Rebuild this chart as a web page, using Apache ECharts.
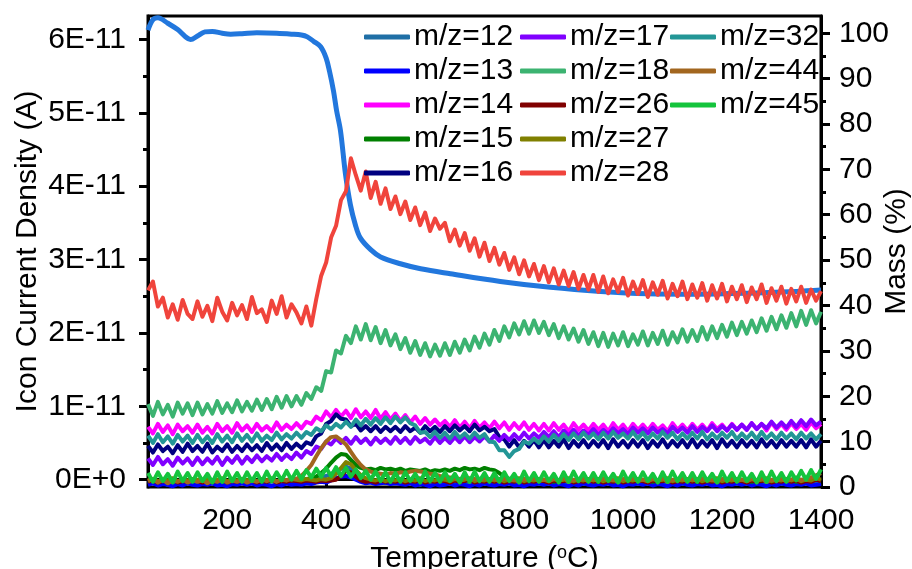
<!DOCTYPE html>
<html><head><meta charset="utf-8">
<script src="https://cdn.jsdelivr.net/npm/echarts@6/dist/echarts.min.js"></script>
<style>html,body{margin:0;padding:0;background:#fff}#c{width:912px;height:569px}</style>
</head><body><div id="c"></div>
<script>
// Temperature (°C) sampling of the MS signals
const temperature = [
40,50,60,70,80,90,100,110,120,130,
140,150,160,170,180,190,200,210,220,230,
240,250,260,270,280,290,300,310,320,330,
340,350,360,370,380,390,400,410,420,430,
440,450,460,470,480,490,500,510,520,530,
540,550,560,570,580,590,600,610,620,630,
640,650,660,670,680,690,700,710,720,730,
740,750,760,770,780,790,800,810,820,830,
840,850,860,870,880,890,900,910,920,930,
940,950,960,970,980,990,1000,1010,1020,1030,
1040,1050,1060,1070,1080,1090,1100,1110,1120,1130,
1140,1150,1160,1170,1180,1190,1200,1210,1220,1230,
1240,1250,1260,1270,1280,1290,1300,1310,1320,1330,
1340,1350,1360,1370,1380,1390,1400];

// Ion current values in units of 1E-12 A
const mz12 = [
-0.5,-0.3,-0.6,-0.4,-0.7,-0.4,-0.6,-0.3,-0.5,-0.6,
-0.4,-0.6,-0.3,-0.5,-0.7,-0.4,-0.5,-0.3,-0.6,-0.4,
-0.5,-0.3,-0.6,-0.4,-0.5,-0.2,-0.4,-0.3,-0.5,-0.2,
-0.4,-0.3,-0.1,0.1,0.2,0.3,0.5,0.8,1.1,1.5,
1.8,1.5,1.0,0.5,0.1,-0.2,-0.4,-0.3,-0.5,-0.4,
-0.5,-0.3,-0.6,-0.4,-0.5,-0.7,-0.4,-0.5,-0.3,-0.6,
-0.4,-0.6,-0.3,-0.5,-0.6,-0.4,-0.5,-0.3,-0.6,-0.5,
-0.5,-0.3,-0.6,-0.4,-0.5,-0.7,-0.4,-0.5,-0.3,-0.6,
-0.4,-0.6,-0.3,-0.5,-0.6,-0.4,-0.5,-0.3,-0.6,-0.5,
-0.5,-0.3,-0.6,-0.4,-0.5,-0.7,-0.4,-0.5,-0.3,-0.6,
-0.4,-0.6,-0.3,-0.5,-0.6,-0.4,-0.5,-0.3,-0.6,-0.5,
-0.5,-0.3,-0.6,-0.4,-0.5,-0.7,-0.4,-0.5,-0.3,-0.6,
-0.4,-0.6,-0.3,-0.5,-0.6,-0.4,-0.5,-0.3,-0.6,-0.5,
-0.4,-0.6,-0.3,-0.5,-0.4,-0.6,-0.5];
const mz13 = [
-0.7,-0.5,-0.8,-0.6,-0.7,-0.9,-0.6,-0.8,-0.5,-0.7,
-0.8,-0.6,-0.7,-0.5,-0.8,-0.7,-0.9,-0.6,-0.7,-0.5,
-0.7,-0.5,-0.8,-0.6,-0.7,-0.9,-0.6,-0.8,-0.5,-0.7,
-0.6,-0.7,-0.5,-0.6,-0.4,-0.3,-0.4,-0.1,0.2,0.4,
0.5,0.3,0.0,-0.3,-0.5,-0.4,-0.6,-0.5,-0.4,-0.6,
-0.5,-0.6,-0.7,-0.5,-0.8,-0.6,-0.7,-0.9,-0.6,-0.8,
-0.7,-0.5,-0.8,-0.6,-0.7,-0.9,-0.6,-0.8,-0.5,-0.7,
-0.8,-0.6,-0.7,-0.5,-0.8,-0.7,-0.9,-0.6,-0.7,-0.5,
-0.7,-0.5,-0.8,-0.6,-0.7,-0.9,-0.6,-0.8,-0.5,-0.7,
-0.8,-0.6,-0.7,-0.5,-0.8,-0.7,-0.9,-0.6,-0.7,-0.5,
-0.7,-0.5,-0.8,-0.6,-0.7,-0.9,-0.6,-0.8,-0.5,-0.7,
-0.8,-0.6,-0.7,-0.5,-0.8,-0.7,-0.9,-0.6,-0.7,-0.5,
-0.7,-0.5,-0.8,-0.6,-0.7,-0.9,-0.6,-0.8,-0.5,-0.7,
-0.8,-0.6,-0.7,-0.5,-0.8,-0.7,-0.6];
const mz14 = [
7.2,6.3,7.6,6.5,7.4,6.2,7.5,6.6,7.3,6.4,
7.5,6.4,7.2,6.3,7.6,6.6,7.3,6.4,7.7,6.7,
7.4,6.5,7.6,6.7,7.3,6.6,7.8,6.8,7.5,6.9,
7.7,7.0,7.9,7.6,8.6,8.1,9.3,8.5,9.5,8.6,
9.4,8.4,9.6,8.5,9.3,8.4,9.5,8.3,9.2,8.2,
9.0,8.0,8.8,7.8,8.6,7.6,8.4,7.5,8.2,7.4,
8.0,7.2,8.1,7.1,7.9,7.0,8.0,7.1,7.8,7.0,
7.9,7.0,7.8,6.8,7.7,6.9,7.8,6.8,7.6,6.7,
7.6,6.7,7.7,6.8,7.5,6.6,7.7,6.8,7.5,6.7,
7.6,6.8,7.5,6.6,7.7,6.8,7.5,6.6,7.6,6.8,
7.5,6.7,7.6,6.8,7.4,6.6,7.7,6.8,7.5,6.7,
7.6,6.8,7.5,6.7,7.7,6.9,7.5,6.7,7.6,6.8,
7.5,6.8,7.7,6.9,7.6,6.7,7.8,6.9,7.6,6.8,
7.7,6.9,7.6,6.8,7.8,7.0,7.6];
const mz15 = [
-0.2,0.0,-0.3,-0.1,-0.2,0.1,-0.3,-0.1,-0.2,0.0,
-0.1,-0.3,0.0,-0.2,-0.1,0.1,-0.3,-0.1,-0.2,0.0,
-0.2,0.0,-0.3,-0.1,-0.2,0.1,-0.3,-0.1,-0.2,0.0,
0.0,-0.1,0.1,0.2,0.4,0.9,1.5,2.3,3.0,3.5,
3.4,2.7,2.0,1.6,1.4,1.5,1.3,1.6,1.4,1.5,
1.3,1.5,1.2,1.4,1.3,1.2,1.4,1.1,1.3,1.2,
1.4,1.2,1.5,1.3,1.6,1.4,1.5,1.3,1.6,1.4,
1.3,0.9,0.4,0.1,0.0,-0.1,0.1,-0.2,0.0,-0.1,
-0.2,0.0,-0.3,-0.1,-0.2,0.1,-0.3,-0.1,-0.2,0.0,
-0.1,-0.3,0.0,-0.2,-0.1,0.1,-0.3,-0.1,-0.2,0.0,
-0.2,0.0,-0.3,-0.1,-0.2,0.1,-0.3,-0.1,-0.2,0.0,
-0.1,-0.3,0.0,-0.2,-0.1,0.1,-0.3,-0.1,-0.2,0.0,
-0.2,0.0,-0.3,-0.1,-0.2,0.1,-0.3,-0.1,-0.2,0.0,
-0.1,-0.3,0.0,-0.2,-0.1,0.1,-0.2];
const mz16 = [
4.6,3.7,4.8,3.9,4.5,3.6,4.7,3.8,4.9,3.9,
4.6,3.8,4.9,3.7,4.5,3.9,4.8,3.8,4.6,3.9,
4.8,4.0,4.7,3.9,5.0,4.1,4.8,4.0,5.0,4.2,
4.9,4.3,5.1,4.8,5.9,6.3,7.6,8.0,8.9,8.3,
8.2,7.3,7.6,6.7,7.3,6.6,7.3,6.5,7.2,6.6,
7.2,6.5,7.3,6.6,7.1,6.4,7.3,6.6,7.2,6.5,
7.3,6.6,7.4,6.7,7.3,6.6,7.5,6.7,7.2,6.6,
6.9,5.8,5.5,4.5,5.4,4.4,5.3,4.5,5.4,4.4,
5.4,4.4,5.3,4.5,5.5,4.3,5.3,4.5,5.4,4.4,
5.3,4.5,5.4,4.3,5.5,4.5,5.3,4.4,5.4,4.5,
5.4,4.3,5.3,4.5,5.5,4.4,5.3,4.5,5.4,4.4,
5.5,4.4,5.3,4.5,5.4,4.3,5.5,4.5,5.3,4.4,
5.4,4.5,5.3,4.4,5.5,4.5,5.3,4.4,5.4,4.5,
5.3,4.5,5.4,4.4,5.5,4.5,5.3];
const mz17 = [
2.9,2.0,3.1,2.1,2.8,1.9,3.0,2.2,2.9,2.0,
3.0,2.1,2.9,2.2,3.1,2.0,3.0,2.3,3.2,2.2,
3.1,2.4,3.3,2.5,3.2,2.6,3.5,2.7,3.4,2.8,
3.7,3.0,3.9,3.5,4.5,4.2,5.2,4.8,5.6,5.0,
5.7,4.9,5.8,5.0,5.6,4.8,5.7,5.0,5.6,4.9,
5.8,5.0,5.7,4.9,5.8,5.1,5.6,4.9,5.8,5.0,
5.7,5.0,5.8,5.1,5.9,5.1,5.8,5.2,5.9,5.2,
6.0,5.3,6.1,5.4,6.2,5.5,6.4,5.6,6.3,5.7,
6.5,5.8,6.6,5.8,6.7,6.0,6.8,6.0,6.7,6.1,
6.9,6.1,6.8,6.2,7.0,6.3,6.9,6.2,7.1,6.4,
7.0,6.3,7.1,6.4,6.9,6.3,7.2,6.5,7.1,6.4,
7.3,6.5,7.2,6.6,7.4,6.6,7.3,6.7,7.5,6.8,
7.5,6.8,7.7,6.9,7.6,7.0,7.9,7.1,7.8,7.1,
8.0,7.2,8.1,7.3,8.2,7.4,7.9];
const mz18 = [
10.3,8.7,10.6,8.9,10.2,8.6,10.5,9.0,10.4,8.8,
10.5,8.9,10.3,9.0,10.7,9.1,10.4,9.2,10.8,9.3,
10.6,9.4,10.9,9.5,11.0,9.6,11.3,9.8,11.4,10.0,
11.4,10.2,11.8,11.0,12.6,12.1,14.8,14.6,17.6,17.2,
19.6,18.6,20.9,19.1,21.2,19.0,20.8,18.6,20.4,18.3,
19.8,17.8,19.3,17.3,18.9,17.0,18.6,16.8,18.4,16.9,
18.6,17.0,18.8,17.3,19.1,17.6,19.5,18.0,19.9,18.4,
20.4,18.9,20.9,19.4,21.3,19.8,21.6,19.9,21.7,20.0,
21.5,19.7,21.2,19.3,20.9,19.1,20.6,18.8,20.4,18.5,
20.1,18.2,20.0,18.1,19.9,18.3,20.1,18.2,19.8,18.4,
20.2,18.3,20.0,18.5,20.3,18.4,20.1,18.7,20.5,18.8,
20.4,18.9,20.8,19.1,20.9,19.3,21.1,19.5,21.4,19.7,
21.5,19.9,21.7,20.1,22.0,20.3,22.2,20.5,22.4,20.7,
22.7,20.9,23.0,21.1,23.1,21.3,22.9];
const mz26 = [
-0.3,-0.1,-0.4,-0.2,-0.3,0.0,-0.4,-0.2,-0.3,-0.1,
-0.2,-0.4,-0.1,-0.3,-0.2,0.0,-0.4,-0.2,-0.3,-0.1,
-0.3,-0.1,-0.4,-0.2,-0.3,0.0,-0.4,-0.2,-0.3,-0.1,
-0.2,-0.3,-0.1,-0.2,-0.3,-0.1,-0.2,-0.1,0.0,0.5,
1.2,1.0,0.4,-0.1,-0.3,-0.2,-0.4,-0.1,-0.3,-0.2,
-0.3,-0.1,-0.4,-0.2,-0.3,0.0,-0.4,-0.2,-0.3,-0.1,
-0.2,-0.4,-0.1,-0.3,-0.2,0.0,-0.4,-0.2,-0.3,-0.1,
-0.3,-0.1,-0.4,-0.2,-0.3,0.0,-0.4,-0.2,-0.3,-0.1,
-0.2,-0.4,-0.1,-0.3,-0.2,0.0,-0.4,-0.2,-0.3,-0.1,
-0.3,-0.1,-0.4,-0.2,-0.3,0.0,-0.4,-0.2,-0.3,-0.1,
-0.2,-0.4,-0.1,-0.3,-0.2,0.0,-0.4,-0.2,-0.3,-0.1,
-0.3,-0.1,-0.4,-0.2,-0.3,0.0,-0.4,-0.2,-0.3,-0.1,
-0.2,-0.4,-0.1,-0.3,-0.2,0.0,-0.4,-0.2,-0.3,-0.1,
-0.3,-0.1,-0.4,-0.2,-0.3,0.0,-0.2];
const mz27 = [
-0.1,0.1,-0.2,0.0,-0.1,0.2,-0.2,0.0,-0.1,0.1,
0.0,-0.2,0.1,-0.1,0.0,0.2,-0.2,0.0,-0.1,0.1,
-0.1,0.1,-0.2,0.0,-0.1,0.2,-0.2,0.0,-0.1,0.1,
0.0,-0.1,0.1,0.0,-0.1,0.1,0.0,0.2,0.8,1.6,
2.4,2.1,1.3,0.6,0.2,0.0,-0.1,0.1,-0.2,0.0,
-0.1,0.1,-0.2,0.0,-0.1,0.2,-0.2,0.0,-0.1,0.1,
0.0,-0.2,0.1,-0.1,0.0,0.2,-0.2,0.0,-0.1,0.1,
-0.1,0.1,-0.2,0.0,-0.1,0.2,-0.2,0.0,-0.1,0.1,
0.0,-0.2,0.1,-0.1,0.0,0.2,-0.2,0.0,-0.1,0.1,
-0.1,0.1,-0.2,0.0,-0.1,0.2,-0.2,0.0,-0.1,0.1,
0.0,-0.2,0.1,-0.1,0.0,0.2,-0.2,0.0,-0.1,0.1,
-0.1,0.1,-0.2,0.0,-0.1,0.2,-0.2,0.0,-0.1,0.1,
0.0,-0.2,0.1,-0.1,0.0,0.2,-0.2,0.0,-0.1,0.1,
-0.1,0.1,-0.2,0.0,-0.1,0.2,0.0];
const mz28 = [
25.8,27.0,23.6,24.8,22.1,23.9,21.8,24.5,22.6,21.9,
24.3,22.2,23.7,21.6,24.8,22.9,21.7,24.1,22.4,23.8,
21.9,24.9,22.7,23.2,21.5,24.4,22.6,25.0,22.1,23.9,
22.8,21.3,23.6,21.0,24.6,27.8,29.6,33.0,34.6,38.1,
39.3,43.8,41.5,39.4,42.0,38.4,40.6,37.6,39.7,36.9,
38.6,36.2,37.9,35.4,37.1,34.7,36.4,33.9,35.6,34.2,
35.0,32.5,34.1,31.9,33.6,31.2,32.9,30.4,32.3,29.8,
31.6,29.3,30.9,28.6,30.3,28.0,29.9,27.7,29.4,27.2,
29.1,26.9,28.8,26.6,28.5,26.4,28.3,26.0,27.9,25.9,
27.9,25.6,27.7,25.4,27.3,25.6,27.5,25.1,27.0,25.3,
27.2,24.9,26.9,25.2,27.1,24.7,26.7,25.0,27.0,24.6,
26.6,24.8,26.8,24.4,26.5,24.7,26.7,24.3,26.3,24.6,
26.5,24.2,26.2,24.6,26.6,24.1,26.1,24.4,26.3,24.0,
26.0,24.3,26.3,24.1,25.9,24.4,25.7];
const mz32 = [
6.0,5.0,6.2,5.1,5.9,4.9,6.1,5.2,6.0,5.0,
6.1,5.1,5.9,5.0,6.2,5.2,6.0,5.1,6.3,5.3,
6.1,5.2,6.3,5.3,6.0,5.4,6.4,5.5,6.2,5.6,
6.4,5.7,6.5,6.1,7.0,6.6,7.4,6.9,7.6,7.1,
7.9,7.2,8.2,7.4,8.3,7.5,8.4,7.6,8.5,7.7,
8.6,7.8,8.5,7.7,7.4,6.4,6.5,5.8,6.5,5.7,
6.4,5.6,6.5,5.7,6.3,5.6,6.4,5.7,6.2,5.2,
5.1,4.0,4.0,3.1,3.9,4.2,5.2,4.9,5.6,5.0,
5.9,5.2,6.1,5.3,6.2,5.4,6.3,5.5,6.4,5.6,
6.3,5.5,6.4,5.6,6.5,5.7,6.3,5.6,6.5,5.6,
6.4,5.5,6.3,5.6,6.5,5.7,6.4,5.5,6.3,5.6,
6.4,5.6,6.5,5.5,6.3,5.6,6.4,5.7,6.5,5.5,
6.3,5.6,6.4,5.5,6.5,5.6,6.3,5.5,6.4,5.6,
6.3,5.5,6.4,5.6,6.3,5.5,6.2];
const mz44 = [
-0.2,0.1,-0.4,0.0,-0.5,-0.1,-0.3,0.1,-0.4,-0.1,
-0.3,0.0,-0.5,-0.1,-0.3,0.1,-0.4,-0.1,-0.3,0.0,
-0.4,-0.1,-0.3,0.1,-0.2,0.0,-0.3,0.1,-0.1,0.2,
0.1,0.5,1.2,2.0,3.2,4.3,5.2,5.8,5.9,5.4,
4.8,3.8,2.8,2.0,1.4,1.1,0.9,0.8,0.7,0.9,
0.8,1.0,0.9,1.1,1.2,1.1,1.0,0.8,0.7,0.5,
0.4,0.3,0.2,0.1,0.2,0.0,0.1,-0.1,0.2,0.0,
0.1,-0.2,0.2,-0.1,0.0,-0.3,0.1,-0.1,0.2,-0.2,
0.0,-0.2,0.1,-0.1,0.2,-0.3,0.0,-0.1,0.1,-0.2,
0.1,-0.2,0.2,-0.1,0.0,-0.3,0.1,-0.1,0.2,-0.2,
0.0,-0.2,0.1,-0.1,0.2,-0.3,0.0,-0.1,0.1,-0.2,
0.1,-0.2,0.2,-0.1,0.0,-0.3,0.1,-0.1,0.2,-0.2,
0.0,-0.2,0.1,-0.1,0.2,-0.3,0.0,-0.1,0.1,-0.2,
0.0,0.3,-0.1,0.2,0.3,0.6,0.9];
const mz45 = [
0.9,-0.3,1.0,-0.2,0.8,-0.4,1.1,-0.2,0.9,-0.3,
1.0,-0.2,0.8,-0.4,1.0,-0.3,1.1,-0.2,0.9,-0.3,
1.0,-0.2,0.9,-0.3,1.1,-0.2,1.0,-0.1,1.2,0.0,
1.2,0.1,1.3,0.3,1.5,0.4,1.6,0.5,1.7,0.5,
1.6,0.4,1.4,0.2,1.2,0.0,1.1,-0.2,1.0,-0.3,
0.9,-0.3,1.0,-0.2,0.8,-0.4,1.1,-0.2,0.9,-0.3,
1.0,-0.2,0.8,-0.4,1.0,-0.3,1.1,-0.2,0.9,-0.3,
0.9,-0.3,1.0,-0.2,0.8,-0.4,1.1,-0.2,0.9,-0.3,
1.0,-0.2,0.8,-0.4,1.0,-0.3,1.1,-0.2,0.9,-0.3,
0.9,-0.3,1.0,-0.2,0.8,-0.4,1.1,-0.2,0.9,-0.3,
1.0,-0.2,0.8,-0.4,1.0,-0.3,1.1,-0.2,0.9,-0.3,
0.9,-0.3,1.0,-0.2,0.8,-0.4,1.1,-0.2,0.9,-0.3,
1.0,-0.2,0.8,-0.4,1.0,-0.3,1.1,-0.2,0.9,-0.3,
1.0,-0.1,1.2,0.0,1.3,0.1,1.4];

// TGA mass curve
const massTemperature = [40,50,60,80,100,115,126,140,155,170,190,207,230,260,300,330,350,362,375,389,400,407,415,421,429,439,449,459,469,490,510,550,591,651,752,853,955,1050,1150,1250,1350,1400];
const massPercent = [100.7,103.0,103.4,102.2,100.8,99.3,98.6,99.4,100.3,100.4,100.0,99.8,99.9,100.1,100.0,99.8,99.6,99.2,98.2,97.0,94.5,91.5,87.2,83.0,78.5,69.0,62.2,57.8,54.9,52.3,50.7,49.2,48.1,47.0,45.3,44.0,43.1,42.6,42.5,42.7,43.1,43.4];

const seriesNames = ['m/z=12','m/z=13','m/z=14','m/z=15','m/z=16','m/z=17','m/z=18','m/z=26','m/z=27','m/z=28','m/z=32','m/z=44','m/z=45'];
const seriesValues = [mz12,mz13,mz14,mz15,mz16,mz17,mz18,mz26,mz27,mz28,mz32,mz44,mz45];
const seriesColors = ['#1f6fa6','#0000ff','#ff00ff','#008000','#000080','#8000ff','#3cb371','#800000','#808000','#f0443c','#239696','#a2661f','#14c43c'];
const massColor = '#2277dd';

// Axis ticks
const xTickValues = [200,400,600,800,1000,1200,1400];
const xTickLabels = ['200','400','600','800','1000','1200','1400'];
const xMinorTicks = [100,300,500,700,900,1100,1300];
const leftTickValues = [0,10,20,30,40,50,60];
const leftTickLabels = ['0E+0','1E-11','2E-11','3E-11','4E-11','5E-11','6E-11'];
const leftMinorTicks = [5,15,25,35,45,55];
const rightTickValues = [0,10,20,30,40,50,60,70,80,90,100];
const rightTickLabels = ['0','10','20','30','40','50','60','70','80','90','100'];
const rightMinorTicks = [5,15,25,35,45,55,65,75,85,95];

const FONT = 'Liberation Sans, Arial, Helvetica, sans-serif';
const FS = 30;
const black = '#000';

function hiddenAxisBase(extra) {
  return Object.assign({
    type: 'value', axisLine: {show: false}, axisLabel: {show: false},
    splitLine: {show: false}
  }, extra);
}

const series = [{
  name: 'Mass', type: 'line', yAxisIndex: 2, xAxisIndex: 0,
  data: massTemperature.map((t, i) => [t, massPercent[i]]),
  symbol: 'none', smooth: 0.35,
  lineStyle: {color: massColor, width: 5}, itemStyle: {color: massColor}
}];
seriesNames.forEach((n, k) => {
  series.push({
    name: n, type: 'line', xAxisIndex: 0, yAxisIndex: 0,
    data: temperature.map((t, i) => [t, seriesValues[k][i]]),
    symbol: 'none',
    lineStyle: {color: seriesColors[k], width: 4, join: 'round'},
    itemStyle: {color: seriesColors[k]}
  });
});

function legend(names, left) {
  return {
    data: names, orient: 'vertical', left: left, top: 22, padding: 0,
    itemWidth: 46, itemHeight: 5, itemGap: 4, icon: 'roundRect',
    textStyle: {fontSize: FS, fontFamily: FONT, color: black, lineHeight: 28, padding: [0,0,0,-1]},
    selectedMode: false
  };
}

const option = {
  animation: false,
  backgroundColor: '#fff',
  textStyle: {fontFamily: FONT},
  grid: {left: 148, right: 91, top: 16, bottom: 82, show: true, borderColor: black, borderWidth: 3,
    backgroundColor: 'transparent', containLabel: false, outerBoundsMode: 'none'},
  legend: [
    legend(seriesNames.slice(0,5), 364),
    legend(seriesNames.slice(5,10), 520),
    legend(seriesNames.slice(10,13), 670)
  ],
  xAxis: [
    {
      type: 'value', min: 40, max: 1400, position: 'bottom',
      axisLine: {lineStyle: {color: black, width: 3}},
      axisTick: {customValues: xTickValues, length: 8, lineStyle: {color: black, width: 3}},
      axisLabel: {customValues: xTickValues, formatter: v => xTickLabels[xTickValues.indexOf(v)],
        fontSize: FS, fontFamily: FONT, color: black, margin: 19},
      splitLine: {show: false},
      name: 'Temperature ({s|o}C)', nameLocation: 'middle', nameGap: 57, nameMoveOverlap: false,
      nameTextStyle: {fontSize: FS, fontFamily: FONT, color: black,
        rich: {s: {fontSize: 18, fontFamily: FONT, color: black, verticalAlign: 'top', lineHeight: 20}}}
    },
    hiddenAxisBase({min: 40, max: 1400, position: 'bottom',
      axisTick: {customValues: xMinorTicks, length: 5, lineStyle: {color: black, width: 3}}})
  ],
  yAxis: [
    {
      type: 'value', min: -1, max: 63.2, position: 'left',
      axisLine: {lineStyle: {color: black, width: 3}},
      axisTick: {customValues: leftTickValues, length: 9, lineStyle: {color: black, width: 3}},
      axisLabel: {customValues: leftTickValues, formatter: v => leftTickLabels[leftTickValues.indexOf(v)],
        fontSize: FS, fontFamily: FONT, color: black, margin: 22},
      splitLine: {show: false},
      name: 'Icon Current Density (A)', nameLocation: 'middle', nameGap: 105, nameRotate: 90, nameMoveOverlap: false,
      nameTextStyle: {fontSize: FS, fontFamily: FONT, color: black}
    },
    hiddenAxisBase({min: -1, max: 63.2, position: 'left',
      axisTick: {customValues: leftMinorTicks, length: 5, lineStyle: {color: black, width: 3}}}),
    {
      type: 'value', min: 0, max: 103.8, position: 'right',
      axisLine: {lineStyle: {color: black, width: 3}},
      axisTick: {customValues: rightTickValues, length: 9, lineStyle: {color: black, width: 3}},
      axisLabel: {customValues: rightTickValues, formatter: v => rightTickLabels[rightTickValues.indexOf(v)],
        fontSize: FS, fontFamily: FONT, color: black, margin: 18},
      splitLine: {show: false},
      name: 'Mass (%)', nameLocation: 'middle', nameGap: 61, nameRotate: 90, nameMoveOverlap: false,
      nameTextStyle: {fontSize: FS, fontFamily: FONT, color: black}
    },
    hiddenAxisBase({min: 0, max: 103.8, position: 'right',
      axisTick: {customValues: rightMinorTicks, length: 5, lineStyle: {color: black, width: 3}}})
  ],
  series: series
};

const chart = echarts.init(document.getElementById('c'), null, {renderer: 'canvas'});
chart.setOption(option);
</script>
</body></html>
